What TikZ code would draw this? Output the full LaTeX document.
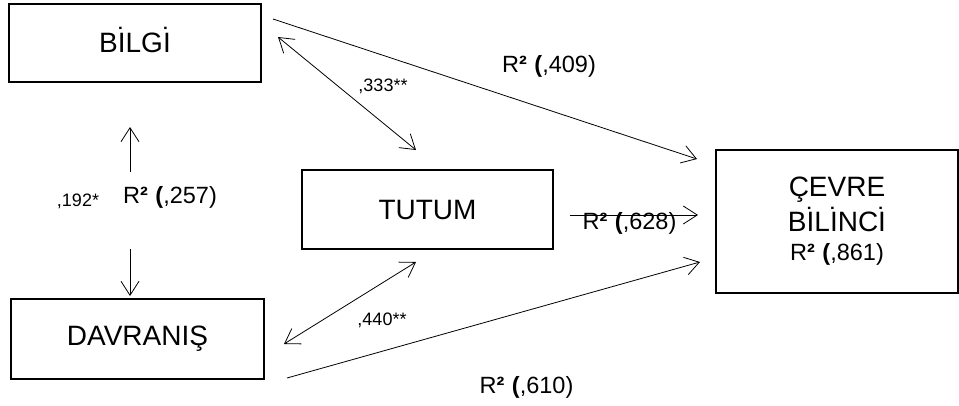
\documentclass[tikz,border=0pt]{standalone}
\usepackage{fontspec}
\setmainfont{Liberation Sans}
\usetikzlibrary{arrows.meta}
\newcommand{\rsq}[1]{R{\bfseries ²}\hspace{0.32em}{\bfseries (},#1)}
\newcommand{\Idot}{\leavevmode\hbox{\ooalign{I\cr\hidewidth\raisebox{0.17em}{\char"02D9}\hidewidth\cr}}}
\begin{document}
\begin{tikzpicture}[x=1pt,y=-1pt,
  box/.style={draw,line width=1.5pt,inner sep=0pt,font=\fontsize{28}{35}\selectfont},
  conn/.style={line width=0.8pt,-{Straight Barb[length=14pt,width=18pt,line width=0.8pt]}},
  dconn/.style={line width=0.8pt,{Straight Barb[length=14pt,width=18pt,line width=0.8pt]}-{Straight Barb[length=14pt,width=18pt,line width=0.8pt]}},
  rlab/.style={inner sep=0pt,font=\fontsize{23.5}{27}\selectfont},
  slab/.style={inner sep=0pt,font=\fontsize{18}{21}\selectfont}]
\useasboundingbox (0,0) rectangle (959,405);
% boxes
\node[box,minimum width=252pt,minimum height=78pt] (bilgi) at (135,43) {B\Idot LG\Idot};
\node[box,minimum width=251pt,minimum height=79pt] (tutum) at (427.5,209.5) {TUTUM};
\node[box,minimum width=242pt,minimum height=143pt,align=center] (cevre) at (837,221.5)
  {ÇEVRE\\B\Idot L\Idot NC\Idot\\[-6pt]{\fontsize{23.5}{27}\selectfont\rsq{861}}};
\node[box,minimum width=253pt,minimum height=80pt] (davranis) at (137.5,339) {DAVRANIŞ};
% connector end points
\coordinate (b1) at (273,19);   \coordinate (c1) at (697,159);
\coordinate (b2) at (278,37);   \coordinate (t2) at (416,150);
\coordinate (u1) at (130,172);  \coordinate (u2) at (130,127);
\coordinate (d1) at (130,249);  \coordinate (d2) at (130,296);
\coordinate (t3) at (416,262);  \coordinate (v3) at (284,344);
\coordinate (v4) at (287,378);  \coordinate (c4) at (700,262);
\coordinate (t5) at (570,215);  \coordinate (c5) at (698,215);
% connectors
\draw[conn] (b1) -- (c1);
\draw[dconn] (b2) -- (t2);
\draw[conn] (u1) -- (u2);
\draw[conn] (d1) -- (d2);
\draw[dconn] (t3) -- (v3);
\draw[conn] (v4) -- (c4);
% labels
\node[slab] (l333) at (383,86.5) {,333**};
\node[rlab] (l409) at (549,66.5) {\rsq{409}};
\node[slab] (l192) at (78,201) {,192*};
\node[rlab] (l257) at (170,197.5) {\rsq{257}};
\node[slab] (l440) at (382,320.5) {,440**};
\node[rlab] (l628) at (629.5,223.5) {\rsq{628}};
\node[rlab] (l610) at (526.5,387.5) {\rsq{610}};
\draw[conn] (t5) -- (c5);
\end{tikzpicture}
\end{document}
